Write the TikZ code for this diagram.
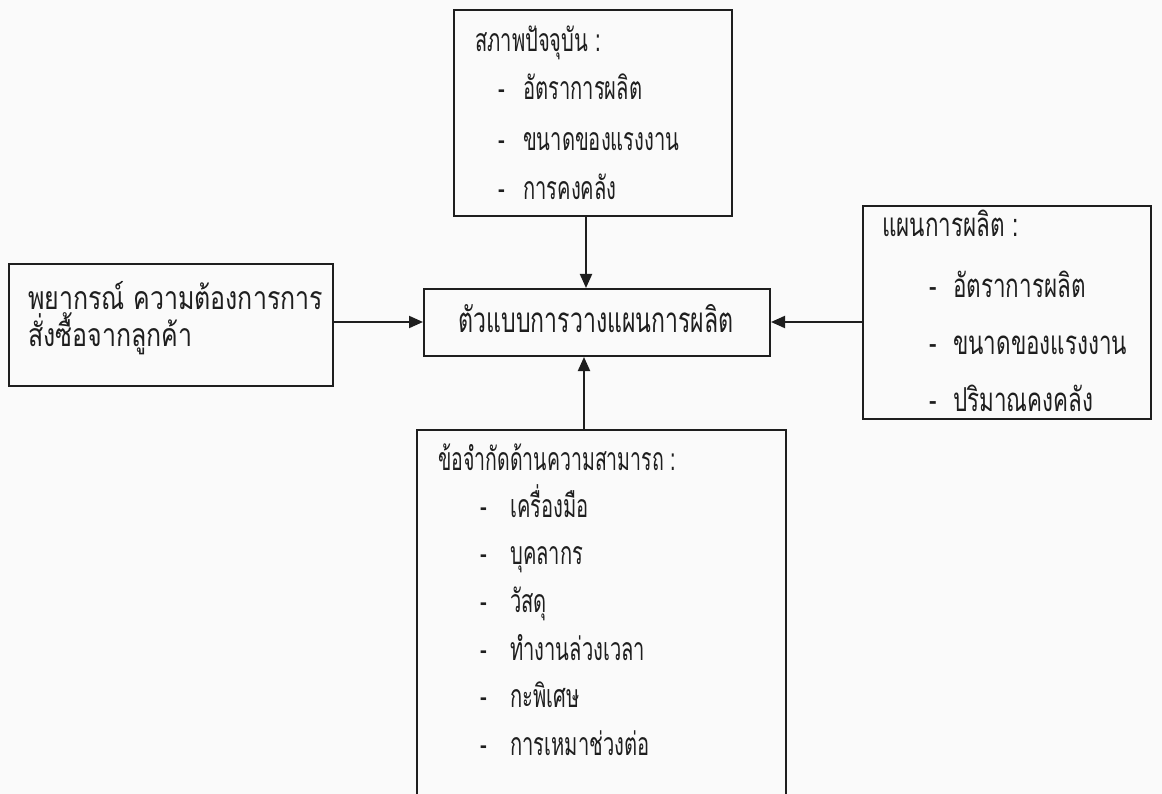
\documentclass[tikz,border=0pt]{standalone}
\usepackage{fontspec}
\usepackage{graphicx}
\newfontfamily\thaifont[Script=Thai]{Loma}
\usetikzlibrary{arrows.meta}
\definecolor{ink}{RGB}{30,30,30}
\definecolor{paper}{RGB}{250,250,250}
% narrow Thai lettering
\newcommand{\narrow}[2]{\scalebox{#1}[1]{#2}}
\tikzset{
  box/.style={draw=ink, line width=2pt, rectangle, inner sep=0pt, anchor=north west},
  txt/.style={anchor=base west, inner sep=0pt, text=ink},
  fs/.style={font=\thaifont\fontsize{#1}{#1}\selectfont},
  ctxt/.style={anchor=base, inner sep=0pt, text=ink},
  arr/.style={draw=ink, line width=2pt, -{Triangle[length=14pt,width=12pt]}}
}
\begin{document}
\begin{tikzpicture}[x=1pt,y=-1pt]
  \fill[paper] (0,0) rectangle (1162,794);
  \useasboundingbox (0,0) rectangle (1162,794);
  \clip (0,0) rectangle (1162,794);

  % boxes
  \node[box, minimum width=278pt, minimum height=206pt] (top) at (453,9) {};
  \node[box, minimum width=346pt, minimum height=67pt] (model) at (423,288) {};
  \node[box, minimum width=324pt, minimum height=122pt] (forecast) at (8,263) {};
  \node[box, minimum width=288pt, minimum height=213pt] (plan) at (862,205) {};
  \node[box, minimum width=369pt, minimum height=400pt] (limit) at (416,429) {};

  % current state
  \begin{scope}[every node/.style={fs=32}]
  \node[txt] (t0) at (475,52) {\narrow{0.63}{สภาพปัจจุบัน :}};
  \node[txt] (t1d) at (498,100) {\narrow{0.63}{-}};
  \node[txt] (t1) at (523,100) {\narrow{0.63}{อัตราการผลิต}};
  \node[txt] (t2d) at (498,151) {\narrow{0.63}{-}};
  \node[txt] (t2) at (523,151) {\narrow{0.63}{ขนาดของแรงงาน}};
  \node[txt] (t3d) at (498,200) {\narrow{0.63}{-}};
  \node[txt] (t3) at (523,200) {\narrow{0.63}{การคงคลัง}};
  \end{scope}

  % forecast
  \begin{scope}[every node/.style={fs=32}]
  \node[txt] (f1) at (28,309) {\narrow{0.78}{พยากรณ์ ความต้องการการ}};
  \node[txt] (f2) at (28,346) {\narrow{0.78}{สั่งซื้อจากลูกค้า}};
  \end{scope}

  % central model
  \node[ctxt, fs=35] (m1) at (596,333) {\narrow{0.66}{ตัวแบบการวางแผนการผลิต}};

  % production plan
  \begin{scope}[every node/.style={fs=33}]
  \node[txt] (p0) at (882,237) {\narrow{0.68}{แผนการผลิต :}};
  \node[txt] (p1d) at (929,298) {\narrow{0.68}{-}};
  \node[txt] (p1) at (953,298) {\narrow{0.68}{อัตราการผลิต}};
  \node[txt] (p2d) at (929,355) {\narrow{0.68}{-}};
  \node[txt] (p2) at (953,355) {\narrow{0.68}{ขนาดของแรงงาน}};
  \node[txt] (p3d) at (929,411) {\narrow{0.68}{-}};
  \node[txt] (p3) at (953,411) {\narrow{0.68}{ปริมาณคงคลัง}};
  \end{scope}

  % capacity limits
  \begin{scope}[every node/.style={fs=32}]
  \node[txt] (c0) at (438,470) {\narrow{0.61}{ข้อจำกัดด้านความสามารถ :}};
  \foreach \y/\s [count=\i] in {517/เครื่องมือ, 564/บุคลากร, 612/วัสดุ, 660/ทำงานล่วงเวลา, 707/กะพิเศษ, 755/การเหมาช่วงต่อ}{
    \node[txt] (c\i d) at (480,\y) {\narrow{0.63}{-}};
    \node[txt] (c\i) at (510,\y) {\narrow{0.63}{\s}};
  }
  \end{scope}

  % connectors
  \coordinate (xa) at (586,0);
  \coordinate (xb) at (584,0);
  \coordinate (ya) at (0,322);
  \draw[arr] (top.south -| xa) -- (model.north -| xa);
  \draw[arr] (limit.north -| xb) -- (model.south -| xb);
  \draw[arr] (forecast.east |- ya) -- (model.west |- ya);
  \draw[arr] (plan.west |- ya) -- (model.east |- ya);
\end{tikzpicture}
\end{document}
